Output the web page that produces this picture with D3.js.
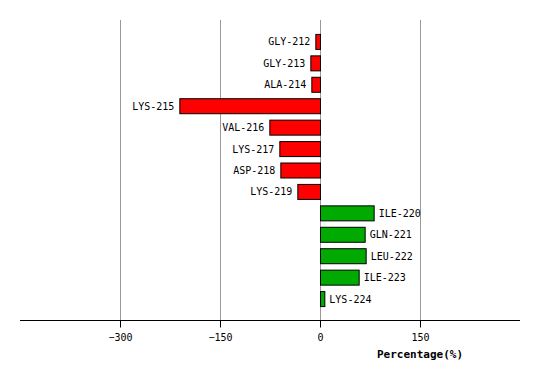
<!DOCTYPE html>
<html><head><meta charset="utf-8">
<script src="https://cdn.jsdelivr.net/npm/d3@7/dist/d3.min.js"></script>
<style>body{margin:0;background:#fff}svg{display:block}</style>
</head><body>
<script>
const residues = ["GLY-212","GLY-213","ALA-214","LYS-215","VAL-216","LYS-217","ASP-218","LYS-219","ILE-220","GLN-221","LEU-222","ILE-223","LYS-224"];
const percentages = [-7,-14.5,-13,-211,-76,-61,-59.5,-34,80.5,67,68.5,58,6.5];
const tickValues = [-300,-150,0,150];
const axisTitle = "Percentage(%)";

const W=540,H=380;
const svg=d3.select("body").append("svg").attr("width",W).attr("height",H);
const x=d3.scaleLinear().domain([-450,300]).range([20,520]);
const y=d3.scalePoint().domain(residues).range([20,320]).padding(1);
const font="'DejaVu Sans Mono', monospace";

svg.append("g").selectAll("line").data(tickValues).join("line")
  .attr("x1",d=>x(d)+0.5).attr("x2",d=>x(d)+0.5).attr("y1",20).attr("y2",320)
  .attr("stroke","#999").attr("stroke-width",1);

const bh=15;
svg.append("g").selectAll("rect").data(residues).join("rect")
  .attr("x",(d,i)=>Math.min(x(0),x(percentages[i]))+0.5)
  .attr("y",d=>y(d)-bh/2+0.5)
  .attr("width",(d,i)=>Math.abs(x(percentages[i])-x(0)))
  .attr("height",bh)
  .attr("fill",(d,i)=>percentages[i]<0?"#ff0000":"#00aa00")
  .attr("stroke","#000").attr("stroke-width",1);

svg.append("g").selectAll("text").data(residues).join("text")
  .attr("x",(d,i)=>percentages[i]<0?x(percentages[i])-5:x(percentages[i])+5)
  .attr("y",d=>y(d)+4)
  .attr("text-anchor",(d,i)=>percentages[i]<0?"end":"start")
  .attr("font-family",font).attr("font-size",10).attr("fill","#000")
  .text(d=>d);

const ax=svg.append("g").attr("transform","translate(0,320.5)")
  .call(d3.axisBottom(x).tickValues(tickValues).tickSize(7).tickPadding(6).tickFormat(d3.format("d")));
ax.select(".domain").attr("d","M20,0H520").attr("stroke","#000");
ax.selectAll(".tick line").attr("stroke","#000");
ax.selectAll(".tick text").attr("font-family",font).attr("font-size",10).attr("fill","#000");

svg.append("text").attr("x",420).attr("y",358).attr("text-anchor","middle")
  .attr("font-family",font).attr("font-size",11).attr("font-weight","bold")
  .text(axisTitle);
</script>
</body></html>
